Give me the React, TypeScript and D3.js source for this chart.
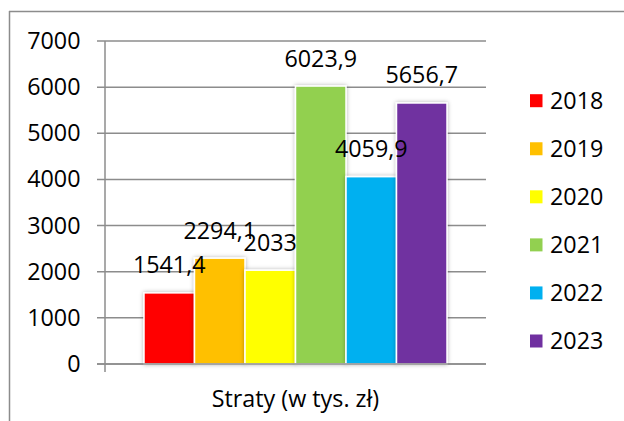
import React from "react";
import * as d3 from "d3";

const years = ["2018", "2019", "2020", "2021", "2022", "2023"];
const values = [1541.4, 2294.1, 2033, 6023.9, 4059.9, 5656.7];
const labels = ["1541,4", "2294,1", "2033", "6023,9", "4059,9", "5656,7"];
const colors = ["#FF0000", "#FFC000", "#FFFF00", "#92D050", "#00B0F0", "#7030A0"];
const yTicks = [0, 1000, 2000, 3000, 4000, 5000, 6000, 7000];
const categoryLabel = "Straty (w tys. zł)";

const W = 624;
const H = 421;
const FONT = "'Open Sans', sans-serif";
const FS = 23.3;

export default function App() {
  const plotL = 105;
  const plotR = 486;
  const y = d3.scaleLinear().domain([0, 7000]).range([364, 41]);
  const x = d3.scaleBand<string>().domain(years).range([plotL, plotR]).paddingInner(0).paddingOuter(0.772);
  const grid = "#8c8c8c";
  const legendY = d3.scalePoint<string>().domain(years).range([100.7, 341]);
  const half = 8;

  return (
    <svg width={W} height={H} style={{ position: "absolute", left: 0, top: 0, background: "#fff" }} fontFamily={FONT}>
      <defs>
        <filter id="sh" x="-20%" y="-20%" width="140%" height="140%">
          <feDropShadow dx="0" dy="0" stdDeviation="2" floodColor="#000" floodOpacity="0.3" />
        </filter>
      </defs>
      <rect x={0} y={0} width={W} height={H} fill="#fff" />
      {/* chart border */}
      <line x1={9} y1={11.5} x2={W} y2={11.5} stroke="#8c8c8c" strokeWidth={1.5} />
      <line x1={9.5} y1={11} x2={9.5} y2={H} stroke="#8c8c8c" strokeWidth={1.5} />

      {/* gridlines and ticks */}
      {yTicks.map((t) => (
        <g key={t}>
          <line x1={97} x2={plotR} y1={y(t)} y2={y(t)} stroke={grid} strokeWidth={1.5} />
          <text x={80.5} y={y(t) + half} textAnchor="end" fontSize={FS} fill="#000">
            {t}
          </text>
        </g>
      ))}
      <line x1={plotL} x2={plotL} y1={y(7000)} y2={372} stroke={grid} strokeWidth={1.5} />

      {/* bars */}
      {years.map((yr, i) => (
        <rect
          key={yr}
          x={x(yr)!}
          y={y(values[i])}
          width={x.bandwidth()}
          height={y(0) - y(values[i])}
          fill={colors[i]}
          stroke="#fff"
          strokeWidth={1.5}
          filter="url(#sh)"
        />
      ))}
      <line x1={97} x2={plotR} y1={y(0)} y2={y(0)} stroke={grid} strokeWidth={1.5} />

      {/* value labels */}
      {years.map((yr, i) => (
        <text
          key={yr}
          x={x(yr)! + x.bandwidth() / 2}
          y={y(values[i]) - 19.5}
          textAnchor="middle"
          fontSize={FS}
          fill="#000"
        >
          {labels[i]}
        </text>
      ))}

      {/* category label */}
      <text x={(plotL + plotR) / 2} y={406.5} textAnchor="middle" fontSize={FS} fill="#000">
        {categoryLabel}
      </text>

      {/* legend */}
      {years.map((yr, i) => (
        <g key={yr}>
          <rect x={530} y={legendY(yr)! - 6.5} width={12.5} height={13} fill={colors[i]} />
          <text x={550} y={legendY(yr)! + half} fontSize={FS} fill="#000">
            {yr}
          </text>
        </g>
      ))}
    </svg>
  );
}
